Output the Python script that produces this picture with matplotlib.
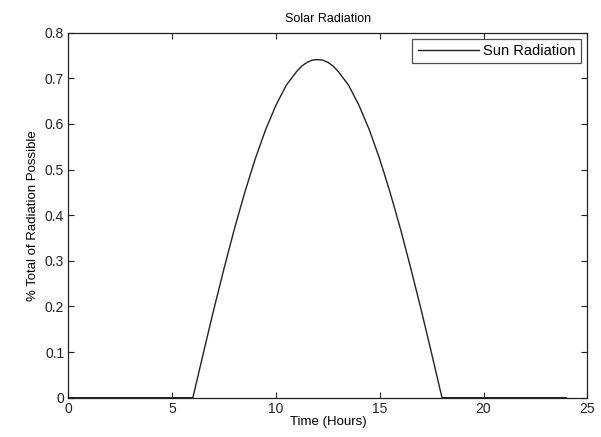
import matplotlib
matplotlib.use("Agg")
import matplotlib.pyplot as plt

hours = [0, 1, 2, 3, 4, 5, 6, 6.5, 7, 7.5, 8, 8.5, 9, 9.5, 10, 10.5, 11, 11.25, 11.5, 11.75, 12,
         12.25, 12.5, 12.75, 13, 13.5, 14, 14.5, 15, 15.5, 16, 16.5, 17, 17.5, 18,
         19, 20, 21, 22, 23, 24]
radiation = [0, 0, 0, 0, 0, 0, 0, 0.097, 0.192, 0.283, 0.370, 0.450, 0.523, 0.587,
             0.641, 0.685, 0.715, 0.727, 0.735, 0.740, 0.741, 0.740, 0.735, 0.727,
             0.715, 0.685, 0.641, 0.587, 0.523, 0.450, 0.370, 0.283, 0.192, 0.097, 0,
             0, 0, 0, 0, 0, 0]
xticks = [0, 5, 10, 15, 20, 25]
yticks = [0, 0.1, 0.2, 0.3, 0.4, 0.5, 0.6, 0.7, 0.8]

plt.rcParams['font.family'] = ['Liberation Sans', 'DejaVu Sans']
fig = plt.figure(figsize=(6.01, 4.37), dpi=100)
ax = fig.add_axes([0.1137, 0.0899, 0.8635, 0.8353])
ax.plot(hours, radiation, color='#222222', lw=1.0, label='Sun Radiation')
ax.set_xlim(0, 25)
ax.set_ylim(0, 0.8)
ax.set_xticks(xticks)
ax.set_xticklabels([str(t) for t in xticks])
ax.set_yticks(yticks)
ax.set_yticklabels(['0'] + [f'{v:.1f}' for v in yticks[1:]])
ax.tick_params(direction='in', top=True, right=True, length=4, width=0.8,
               labelsize=10, pad=3, colors='#222222')
for s in ax.spines.values():
    s.set_linewidth(0.9)
    s.set_color('#222222')
ax.set_title('Solar Radiation', fontsize=9, pad=8)
ax.set_xlabel('Time (Hours)', fontsize=9.5, labelpad=0)
ax.set_ylabel('% Total of Radiation Possible', fontsize=9.5, labelpad=4)
leg = ax.legend(loc='upper right', fontsize=10.5, frameon=True, fancybox=False,
                edgecolor='#222222', handlelength=4.2, borderaxespad=0.45,
                borderpad=0.35, handletextpad=0.3)
leg.get_frame().set_linewidth(0.9)
fig.savefig('out.png', dpi=100)
